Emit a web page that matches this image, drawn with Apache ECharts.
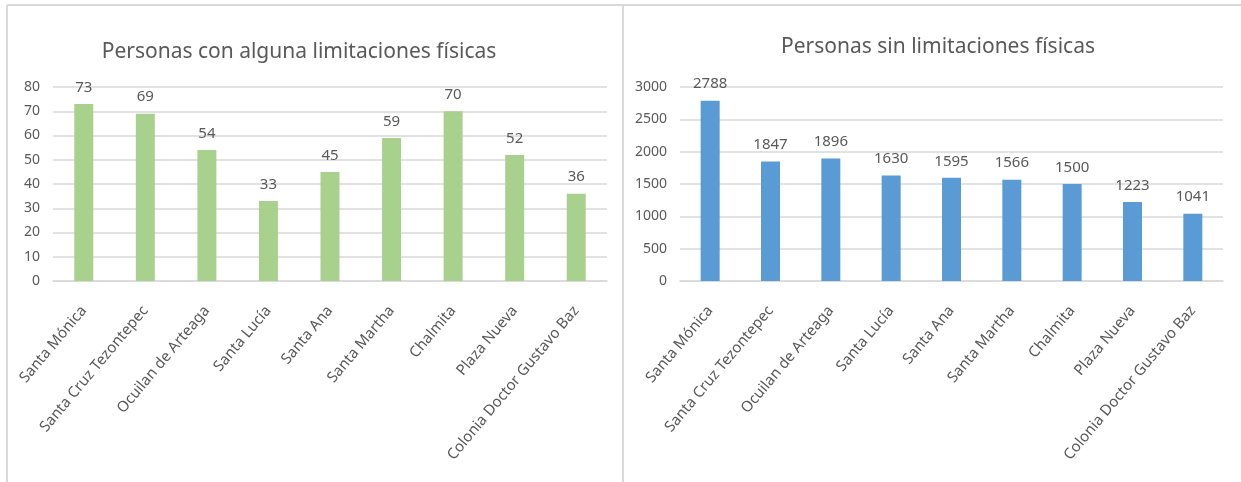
<!DOCTYPE html>
<html>
<head>
    <meta charset="utf-8">
    <title>Personas con y sin limitaciones físicas</title>
    <script src="https://cdn.jsdelivr.net/npm/echarts@6/dist/echarts.min.js"></script>
    <style>
        html, body { margin: 0; padding: 0; background: #fff; }
        #chart { width: 1241px; height: 482px; }
    </style>
</head>
<body>
    <div id="chart"></div>

    <script>
        const localidades = [
            'Santa Mónica', 'Santa Cruz Tezontepec', 'Ocuilan de Arteaga', 'Santa Lucía',
            'Santa Ana', 'Santa Martha', 'Chalmita', 'Plaza Nueva', 'Colonia Doctor Gustavo Baz'
        ];
        const conLimitaciones = [73, 69, 54, 33, 45, 59, 70, 52, 36];
        const sinLimitaciones = [2788, 1847, 1896, 1630, 1595, 1566, 1500, 1223, 1041];

        const textColor = '#595959';
        const lineColor = '#D9D9D9';
        const fontFamily = 'Noto Sans';

        function categoryAxis(gridIndex) {
            return {
                type: 'category',
                gridIndex: gridIndex,
                data: localidades,
                axisLine: { show: true, lineStyle: { color: lineColor, width: 1.5 } },
                axisTick: { show: false },
                axisLabel: {
                    rotate: 50,
                    interval: 0,
                    margin: 27,
                    color: textColor,
                    fontSize: 15,
                    fontFamily: fontFamily
                }
            };
        }

        function valueAxis(gridIndex, max, interval) {
            return {
                type: 'value',
                gridIndex: gridIndex,
                min: 0,
                max: max,
                interval: interval,
                axisLine: { show: false },
                axisTick: { show: false },
                axisLabel: {
                    color: textColor, fontSize: 14, fontFamily: fontFamily, margin: 13,
                    formatter: v => String(v)
                },
                splitLine: { lineStyle: { color: lineColor, width: 1.5 } }
            };
        }

        function barSeries(index, data, color) {
            return {
                type: 'bar',
                xAxisIndex: index,
                yAxisIndex: index,
                data: data,
                barWidth: 19,
                itemStyle: { color: color },
                label: {
                    show: true,
                    position: 'top',
                    distance: 9,
                    color: textColor,
                    fontSize: 15,
                    fontFamily: fontFamily
                },
                silent: true
            };
        }

        const chart = echarts.init(document.getElementById('chart'));

        chart.setOption({
            backgroundColor: '#fff',
            animation: false,
            title: [
                {
                    text: 'Personas con alguna limitaciones físicas',
                    left: 294, top: 37, textAlign: 'center',
                    textStyle: { color: textColor, fontSize: 21, fontWeight: 'normal', fontFamily: fontFamily }
                },
                {
                    text: 'Personas sin limitaciones físicas',
                    left: 933, top: 32, textAlign: 'center',
                    textStyle: { color: textColor, fontSize: 21, fontWeight: 'normal', fontFamily: fontFamily }
                }
            ],
            graphic: [
                { type: 'line', shape: { x1: 7, y1: 5, x2: 1241, y2: 5 }, style: { stroke: lineColor, lineWidth: 2 } },
                { type: 'line', shape: { x1: 7, y1: 5, x2: 7, y2: 482 }, style: { stroke: lineColor, lineWidth: 2 } },
                { type: 'line', shape: { x1: 623, y1: 5, x2: 623, y2: 482 }, style: { stroke: lineColor, lineWidth: 2 } }
            ],
            grid: [
                { left: 53, right: 634, top: 87, bottom: 201 },
                { left: 680, right: 18, top: 87, bottom: 201 }
            ],
            xAxis: [categoryAxis(0), categoryAxis(1)],
            yAxis: [valueAxis(0, 80, 10), valueAxis(1, 3000, 500)],
            series: [
                barSeries(0, conLimitaciones, '#A9D18E'),
                barSeries(1, sinLimitaciones, '#5B9BD5')
            ]
        });
    </script>
</body>
</html>
